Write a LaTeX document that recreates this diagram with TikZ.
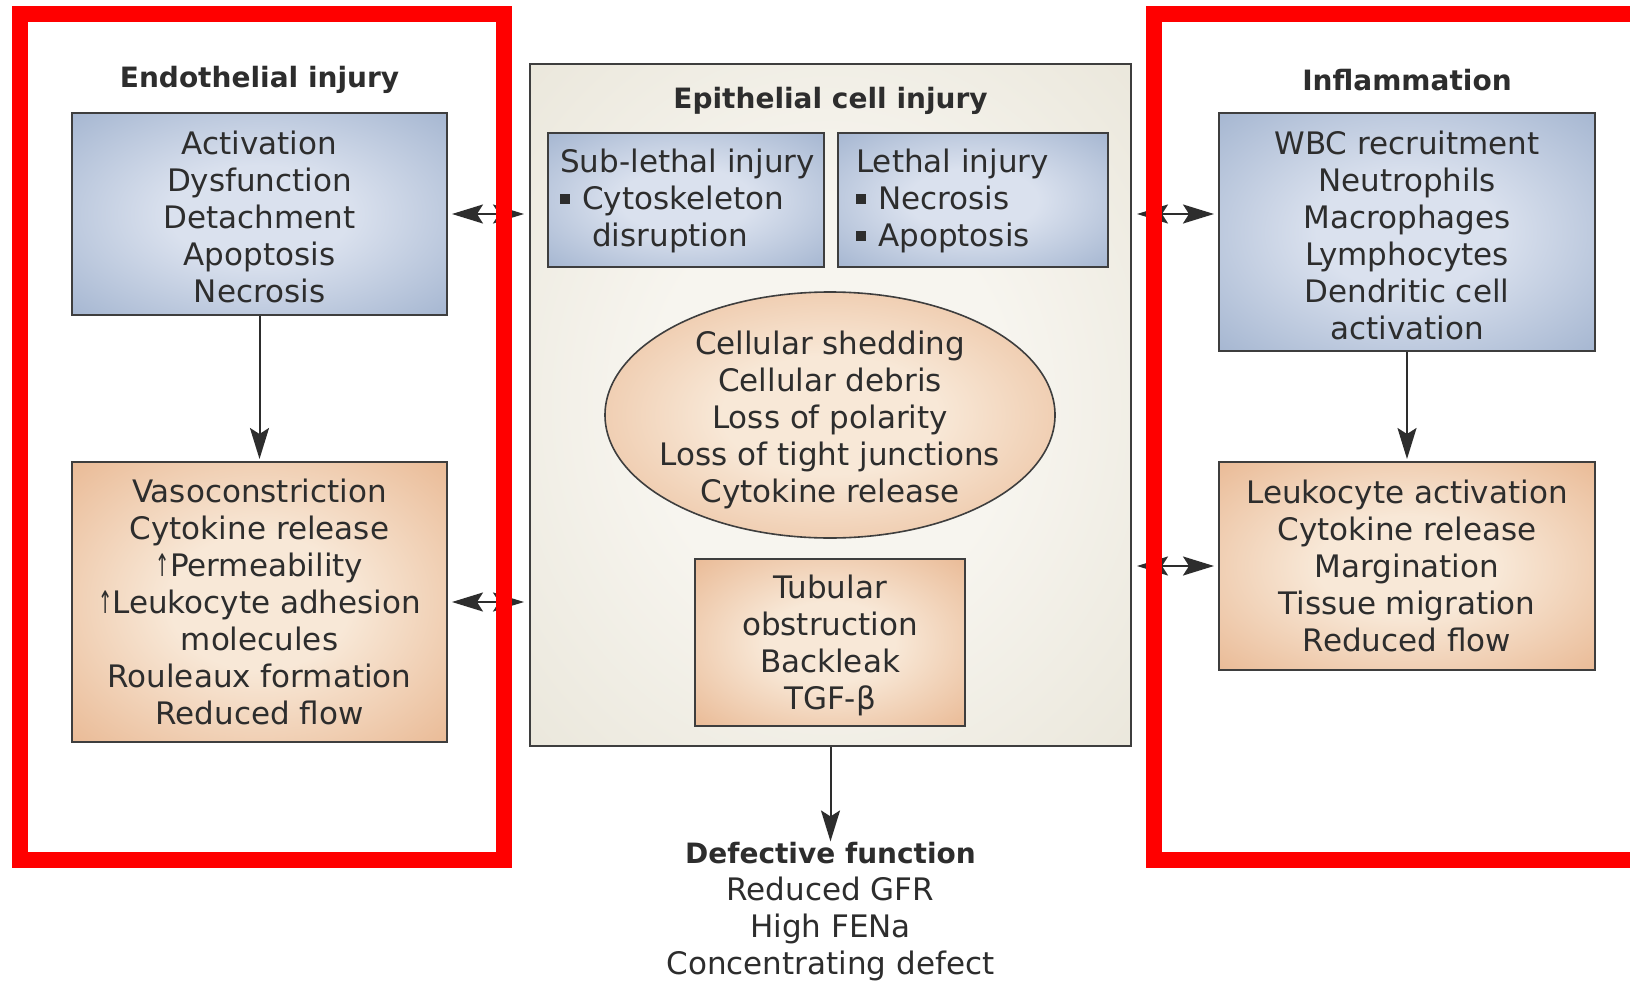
\documentclass[tikz,border=0pt]{standalone}
\usepackage{fontspec}
\usepackage{graphicx}
\setmainfont{DejaVu Sans}
\usetikzlibrary{arrows.meta,shapes.geometric}

% palette
\definecolor{blueout}{RGB}{160,178,206}
\definecolor{bluein}{RGB}{218,225,238}
\definecolor{orangeout}{RGB}{231,178,138}
\definecolor{orangein}{RGB}{248,232,215}
\definecolor{beigeout}{RGB}{229,225,211}
\definecolor{beigein}{RGB}{247,245,239}
\definecolor{ink}{RGB}{45,45,45}
\definecolor{edge}{RGB}{62,62,62}

% soft centre-lit fills for the panels
\pgfdeclareradialshading{blueglow}{\pgfpoint{0bp}{0bp}}{color(0bp)=(bluein); color(12bp)=(bluein); color(38bp)=(blueout); color(50bp)=(blueout)}
\pgfdeclareradialshading{orangeglow}{\pgfpoint{0bp}{0bp}}{color(0bp)=(orangein); color(12bp)=(orangein); color(40bp)=(orangeout); color(50bp)=(orangeout)}
\pgfdeclareradialshading{beigeglow}{\pgfpoint{0bp}{0bp}}{color(0bp)=(beigein); color(15bp)=(beigein); color(45bp)=(beigeout); color(50bp)=(beigeout)}

\newcommand\sqbul{\rule[6pt]{10pt}{10pt}\hspace{12pt}}
\newcommand\uparr{\scalebox{0.55}[1]{↑}}

\tikzset{
  bigtip/.tip={Stealth[length=31pt,width=19pt,inset=6pt]},
  txt/.style={font=\fontsize{31}{37}\selectfont, text=ink, align=center, inner sep=0pt},
  ttl/.style={font=\fontsize{28}{34}\selectfont\bfseries, text=ink, inner sep=0pt},
  panel/.style={draw=edge, line width=2pt, inner sep=0pt, rectangle},
  bluebox/.style={panel, shading=blueglow},
  orangebox/.style={panel, shading=orangeglow},
  beigebox/.style={panel, shading=beigeglow},
  link/.style={draw=ink, line width=2pt, -{bigtip}},
  twoway/.style={draw=ink, line width=2pt, {bigtip}-{bigtip}, shorten <=5pt, shorten >=4pt},
  frame/.style={draw=red, line width=16pt},
}

\begin{document}
\begin{tikzpicture}[x=1pt,y=-1pt]
\useasboundingbox[fill=white] (0,0) rectangle (1630,982);

% centre column: epithelial cell injury
\node[beigebox, minimum width=601pt, minimum height=682pt] (epi) at (830.5,405) {};
\node[ttl] (epititle) at (830.5,101) {Epithelial cell injury};
\node[bluebox, minimum width=276pt, minimum height=134pt] (sub) at (686,200) {};
\node[txt, align=left, anchor=west] (subtext) at (560,201)
  {Sub-lethal injury\\\sqbul Cytoskeleton\\\hspace{32pt}disruption};
\node[bluebox, minimum width=270pt, minimum height=134pt] (lethal) at (973,200) {};
\node[txt, align=left, anchor=west] (lethaltext) at (856,201)
  {Lethal injury\\\sqbul Necrosis\\\sqbul Apoptosis};
\node[draw=edge, line width=1.6pt, ellipse, shading=orangeglow, inner sep=0pt,
      minimum width=450pt, minimum height=246pt] (ell) at (830,415) {};
\node[txt] (elltext) at (830,420)
  {Cellular shedding\\Cellular debris\\Loss of polarity\\Loss of tight junctions\\Cytokine release};
\node[orangebox, minimum width=270pt, minimum height=167pt] (tub) at (830,642) {};
\node[txt] (tubtext) at (830,645) {Tubular\\obstruction\\Backleak\\TGF-β};

% left column: endothelial injury
\node[ttl] (endotitle) at (259.5,80) {Endothelial injury};
\node[bluebox, minimum width=375pt, minimum height=202pt] (endo) at (259.5,214) {};
\node[txt] (endotext) at (259.5,217)
  {Activation\\Dysfunction\\Detachment\\Apoptosis\\Necrosis};
\node[orangebox, txt, minimum width=375pt, minimum height=280pt] (endob) at (259.5,602)
  {Vasoconstriction\\Cytokine release\\\uparr Permeability\\\uparr Leukocyte adhesion\\molecules\\Rouleaux formation\\Reduced flow};

% right column: inflammation
\node[ttl] (infltitle) at (1407,80) {Inflammation};
\node[bluebox, minimum width=376pt, minimum height=238pt] (infl) at (1407,232) {};
\node[txt] (infltext) at (1407,235)
  {WBC recruitment\\Neutrophils\\Macrophages\\Lymphocytes\\Dendritic cell\\activation};
\node[orangebox, txt, minimum width=376pt, minimum height=208pt] (inflb) at (1407,566)
  {Leukocyte activation\\Cytokine release\\Margination\\Tissue migration\\Reduced flow};

% outcome
\node[txt] (defect) at (830.5,912)
  {{\fontsize{28}{37}\selectfont\bfseries Defective function}\\Reduced GFR\\High FENa\\Concentrating defect};

% connectors
\draw[link, shorten >=2pt] (endo.south) -- (endob.north);
\draw[link, shorten >=2pt] (infl.south) -- (infl.south |- inflb.north);
\draw[link, shorten >=1pt] (epi.south) -- (epi.south |- defect.north);
\draw[twoway] (endo.east -| epi.west) -- (endo.east);
\draw[twoway] (endob.east -| epi.west) -- (endob.east);
\draw[twoway] (epi.east |- endo.east) -- (endo.east -| infl.west);
\draw[twoway] (inflb.west -| epi.east) -- (inflb.west);

% highlight frames
\draw[frame] (19.5,14) rectangle (503.5,860);
\draw[frame] (1630,14) -- (1153.5,14) -- (1153.5,860) -- (1630,860);
\end{tikzpicture}
\end{document}
